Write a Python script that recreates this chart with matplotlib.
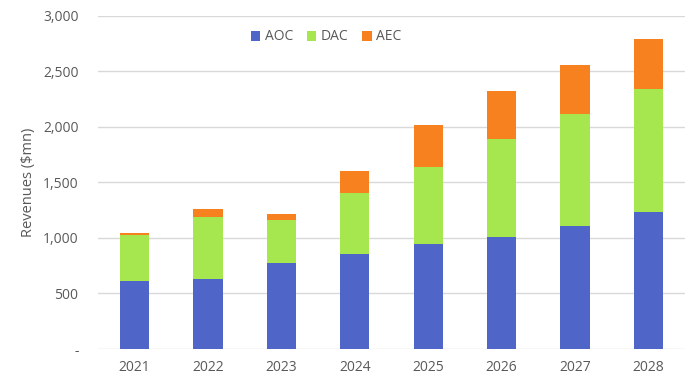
import matplotlib
matplotlib.use("Agg")
import matplotlib.pyplot as plt
from matplotlib.ticker import FuncFormatter

years = ["2021", "2022", "2023", "2024", "2025", "2026", "2027", "2028"]
aoc = [614, 632, 776, 854, 947, 1010, 1103, 1229]
dac = [411, 552, 381, 552, 693, 881, 1010, 1106]
aec = [15, 78, 57, 197, 377, 426, 438, 453]

colors = {"AOC": "#4F66C8", "DAC": "#A6E64F", "AEC": "#F7801F"}
text_color = "#595959"

plt.rcParams["font.family"] = ["Open Sans", "DejaVu Sans"]

fig = plt.figure(figsize=(7, 3.83), dpi=100)
ax = fig.add_axes([98 / 700, 1 - 349 / 383, 587 / 700, (349 - 15.5) / 383])

x = range(len(years))
width = 0.4
bottom_dac = [a for a in aoc]
bottom_aec = [a + d for a, d in zip(aoc, dac)]

ax.bar(x, aoc, width, color=colors["AOC"], label="AOC", zorder=3)
ax.bar(x, dac, width, bottom=bottom_dac, color=colors["DAC"], label="DAC", zorder=3)
ax.bar(x, aec, width, bottom=bottom_aec, color=colors["AEC"], label="AEC", zorder=3)

ax.set_xlim(-0.5, len(years) - 0.5)
ax.set_ylim(0, 3000)
ax.set_yticks(range(0, 3001, 500))
ax.yaxis.set_major_formatter(FuncFormatter(lambda v, p: "-" if v == 0 else f"{int(v):,}"))
ax.set_xticks(list(x))
ax.set_xticklabels(years)

ax.grid(axis="y", color="#D9D9D9", linewidth=1, zorder=0)
for s in ax.spines.values():
    s.set_visible(False)
ax.tick_params(length=0, colors=text_color, labelsize=10)
ax.tick_params(axis="y", pad=14)
ax.tick_params(axis="x", pad=8)

ax.set_ylabel("Revenues ($mn)", color=text_color, fontsize=10.5, labelpad=5)

fig.legend(loc="center", bbox_to_anchor=(326 / 700, 1 - 37 / 383), ncol=3, frameon=False,
           fontsize=10, handlelength=0.7, handleheight=0.7, handletextpad=0.3, columnspacing=1.0,
           labelcolor=text_color)

fig.savefig("out.png", dpi=100)
